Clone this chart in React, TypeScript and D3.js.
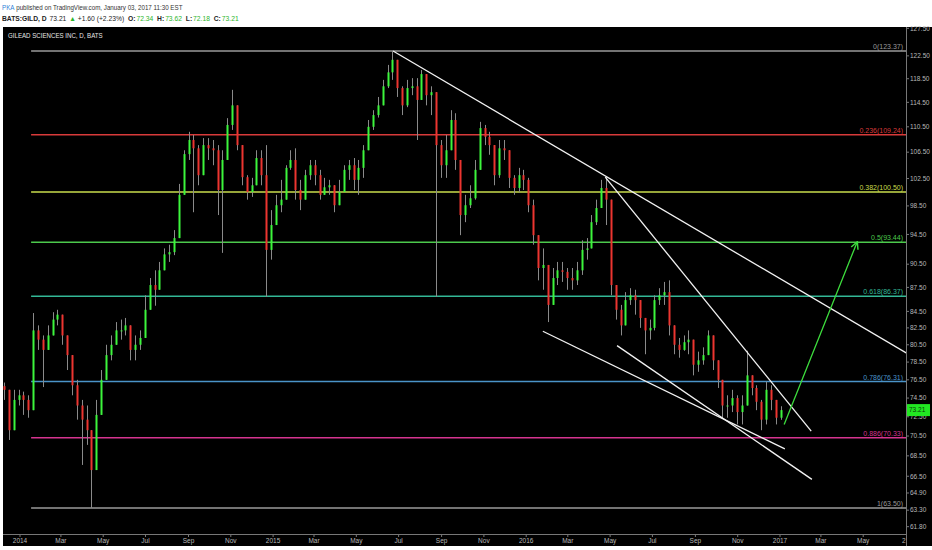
import React from 'react';
import * as d3 from 'd3';

const W = 932;
const H = 550;

// ---------- header texts ----------
const author = 'PKA';
const publishedText = ' published on TradingView.com, January 03, 2017 11:30 EST';
const symbolText = 'BATS:GILD, D';
const lastPriceText = '73.21';
const changeText = '+1.60 (+2.23%)';
const ohlcLabels = ['O:', 'H:', 'L:', 'C:'];
const ohlcValues = ['72.34', '73.62', '72.18', '73.21'];
const chartTitle = 'GILEAD SCIENCES INC, D, BATS';

// ---------- weekly candles (Dec 9 2013 .. Jan 2 2017) ----------
const firstWeek = new Date(2013, 11, 9);
const firstOpen = 75.8;
const closes = [
  75.4, 71.1, 74.3, 74.8, 74.3, 73.2, 82.2, 81.1, 79.9, 81.6,
  83.5, 84.1, 81.6, 79.3, 75.9, 73.7, 72.2, 71.1, 67.1, 72.7,
  76.5, 79.3, 80.5, 82.2, 82.2, 82.8, 79.9, 80.5, 81.3, 84.7,
  87.8, 87.2, 89.7, 91.8, 92.1, 94.0, 100.1, 106.2, 108.4, 107.1,
  103.0, 107.6, 107.1, 106.8, 100.8, 105.3, 110.8, 114.0, 107.6, 102.7,
  100.5, 101.5, 105.6, 103.0, 92.4, 95.8, 98.6, 99.4, 104.1, 105.3,
  100.8, 99.4, 103.0, 104.5, 103.0, 100.1, 101.2, 101.5, 98.6, 100.5,
  103.8, 104.5, 102.3, 104.1, 106.8, 110.5, 112.4, 114.0, 117.2, 119.6,
  121.8, 116.9, 114.0, 116.9, 117.2, 114.9, 119.3, 115.7, 116.2, 107.6,
  104.5, 106.8, 111.6, 105.3, 97.2, 98.6, 99.6, 103.8, 110.3, 108.9,
  107.6, 103.0, 107.1, 106.8, 102.6, 101.1, 103.0, 102.3, 98.6, 94.4,
  90.0, 90.4, 85.3, 88.7, 89.7, 89.5, 88.7, 88.4, 89.7, 92.4,
  92.6, 96.2, 98.2, 101.1, 99.4, 87.8, 84.7, 82.8, 85.9, 86.5,
  85.9, 83.7, 82.2, 82.5, 85.9, 86.5, 86.9, 82.8, 80.5, 79.9,
  80.8, 81.1, 78.2, 78.7, 79.3, 81.6, 78.7, 76.5, 73.7, 73.7,
  74.5, 73.0, 73.7, 77.0, 75.6, 74.1, 72.2, 75.4, 74.3, 72.4,
  73.21,
];
const highs = [
  76.2, 74.8, 75.4, 75.4, 75.2, 74.8, 84.3, 82.8, 81.6, 82.8,
  84.4, 84.7, 84.1, 81.6, 79.3, 76.5, 74.3, 73.7, 71.1, 74.3,
  77.6, 80.5, 81.6, 83.2, 83.5, 83.7, 82.8, 81.6, 82.2, 86.5,
  88.7, 89.7, 90.8, 92.6, 93.1, 95.1, 101.7, 106.8, 109.7, 109.2,
  107.6, 108.7, 108.7, 108.4, 107.6, 106.8, 111.9, 116.6, 114.0, 107.6,
  103.0, 102.6, 106.8, 106.8, 107.6, 97.9, 100.1, 102.3, 104.5, 106.8,
  107.1, 102.3, 103.8, 105.3, 105.3, 103.8, 102.6, 102.3, 101.5, 102.3,
  104.5, 105.3, 105.6, 105.3, 107.6, 111.6, 113.2, 115.4, 118.3, 120.9,
  123.37, 121.8, 117.2, 118.3, 118.6, 118.6, 120.0, 118.3, 117.2, 113.2,
  108.4, 109.2, 113.2, 112.7, 104.5, 100.1, 101.5, 105.3, 111.3, 110.8,
  109.7, 107.6, 108.4, 108.4, 106.8, 103.0, 104.1, 103.8, 102.6, 99.4,
  94.4, 92.6, 89.1, 90.0, 90.8, 90.8, 90.0, 90.0, 90.8, 93.7,
  94.0, 97.2, 99.4, 102.3, 102.7, 92.4, 87.2, 85.3, 86.9, 87.4,
  87.2, 85.9, 83.7, 83.5, 86.5, 87.4, 88.2, 88.4, 82.2, 81.3,
  81.6, 82.2, 80.5, 79.7, 80.2, 82.2, 81.6, 78.7, 76.5, 74.8,
  75.4, 74.8, 74.8, 79.8, 77.0, 75.9, 74.3, 76.3, 75.9, 74.3,
  73.62,
];
const lows = [
  74.3, 70.1, 72.2, 73.7, 72.7, 72.4, 74.8, 79.9, 75.7, 80.5,
  82.2, 82.8, 80.5, 77.6, 74.8, 72.2, 67.6, 69.6, 63.5, 67.1,
  73.2, 76.5, 78.7, 80.5, 81.1, 81.6, 78.7, 78.7, 79.9, 82.2,
  85.9, 85.2, 87.2, 90.0, 90.8, 91.7, 95.8, 101.5, 105.3, 97.6,
  101.5, 104.5, 105.3, 104.5, 97.2, 92.0, 106.8, 110.0, 106.8, 101.5,
  99.4, 99.8, 101.5, 101.5, 86.3, 91.1, 95.8, 97.6, 100.1, 103.8,
  99.4, 97.9, 100.1, 102.3, 101.5, 99.4, 100.1, 100.1, 97.6, 99.4,
  101.5, 102.3, 100.8, 100.1, 102.6, 106.8, 110.0, 112.0, 114.0, 116.9,
  118.3, 115.4, 112.4, 113.7, 115.7, 108.4, 114.9, 114.0, 112.4, 86.3,
  102.6, 102.6, 107.6, 103.8, 94.4, 96.2, 98.2, 99.4, 103.8, 107.6,
  106.1, 101.5, 102.6, 105.3, 101.1, 100.1, 100.5, 100.8, 97.6, 93.1,
  88.4, 87.2, 83.2, 85.9, 87.8, 88.2, 87.2, 87.2, 87.8, 89.1,
  91.1, 93.1, 95.8, 98.6, 95.8, 86.5, 83.5, 81.6, 83.5, 85.3,
  84.1, 82.5, 79.4, 81.1, 82.2, 85.3, 85.3, 81.6, 79.4, 79.0,
  79.8, 79.4, 77.0, 77.4, 78.2, 79.7, 77.6, 75.6, 72.4, 72.4,
  73.0, 71.7, 71.7, 75.4, 74.8, 73.2, 71.1, 71.7, 73.2, 71.7,
  72.18,
];

// ---------- Fibonacci retracement ----------
const fibRatios = ['0', '0.236', '0.382', '0.5', '0.618', '0.786', '0.886', '1'];
const fibPrices = [123.37, 109.24, 100.5, 93.44, 86.37, 76.31, 70.33, 63.5];
const fibColors = ['#9a9a9a', '#d83a3a', '#c9dc4c', '#4cc94c', '#33b896', '#4a93c8', '#d6348f', '#9a9a9a'];
const fibStart = new Date(2014, 0, 17);

// ---------- trend lines ----------
const trendStartDates = [new Date(2015, 5, 23), new Date(2016, 3, 24), new Date(2016, 0, 25), new Date(2016, 4, 11)];
const trendStartPrices = [123.37, 102.7, 82.1, 80.4];
const trendEndDates = [new Date(2017, 6, 2), new Date(2017, 1, 15), new Date(2017, 0, 8), new Date(2017, 1, 16)];
const trendEndPrices = [79.55, 71.0, 69.2, 66.2];

const arrowStartDate = new Date(2017, 0, 7);
const arrowStartPrice = 71.7;
const arrowEndDate = new Date(2017, 3, 22);
const arrowEndPrice = 93.4;

// ---------- axes ----------
const yTickValues = [127.5, 122.5, 118.5, 114.5, 110.5, 106.5, 102.5, 98.5, 94.5, 90.5, 87.5, 84.5, 82.5, 80.5, 78.5, 76.5, 74.5, 72.5, 70.5, 68.5, 66.5, 64.9, 63.3, 61.8];
const xTickStart = new Date(2014, 0, 1);
const xTickEnd = new Date(2017, 5, 2);
const xExtraLabel = '2';
const xExtraDate = new Date(2017, 6, 1);

const FONT = '"Liberation Sans", Arial, sans-serif';

export default function App() {
  const plotL = 3, plotR = 906, plotT = 27, plotB = 534, blackB = 546;

  const x = d3.scaleTime().domain([new Date(2014, 0, 1), new Date(2017, 0, 1)]).range([20, 780]);
  const y = d3.scaleLog().domain([63.5, 123.37]).range([508, 51]);

  const candles = closes.map((c, i) => {
    const o = i === 0 ? firstOpen : closes[i - 1];
    const hi = Math.max(highs[i], o, c);
    const lo = Math.min(lows[i], o, c);
    return { date: d3.timeDay.offset(firstWeek, 7 * i), o, c, hi, lo };
  });

  const xTicks = d3.timeMonth.every(2)!.range(xTickStart, xTickEnd);
  const fmtTick = (d: Date) => (d.getMonth() === 0 ? d3.timeFormat('%Y')(d) : d3.timeFormat('%b')(d));

  const up = '#3cf53c';
  const down = '#ec3530';
  const wick = '#8a8a8a';
  const axisText = '#b8b8b8';

  return (
    <svg width={W} height={H} style={{ position: 'absolute', left: 0, top: 0, background: '#fff' }} fontFamily={FONT}>
      <defs>
        <clipPath id="plot">
          <rect x={plotL} y={plotT} width={plotR - plotL} height={plotB - plotT} />
        </clipPath>
        <marker id="arrow" viewBox="0 0 10 10" refX="8" refY="5" markerWidth="7" markerHeight="7" orient="auto-start-reverse">
          <path d="M1,1 L9,5 L1,9" fill="none" stroke="#3ddc3d" strokeWidth="1.6" />
        </marker>
      </defs>
      <rect x={0} y={0} width={W} height={H} fill="#ffffff" />
      {/* header */}
      <g transform="translate(2,10) scale(0.89,1)">
        <text x={0} y={0} fontSize={7} fill="#333">
          <tspan fill="#2f7fd8">{author}</tspan>
          <tspan>{publishedText}</tspan>
        </text>
      </g>
      <g transform="translate(2,21) scale(0.96,1)">
        <text x={0} y={0} fontSize={7} fill="#222">
          <tspan fontWeight="bold">{symbolText}</tspan>
          <tspan dx={3}>{lastPriceText}</tspan>
          <tspan dx={3} fill="#2bb52b">▲</tspan>
          <tspan dx={2}>{changeText}</tspan>
          {ohlcLabels.map((l, i) => (
            <React.Fragment key={l}>
              <tspan dx={4} fontWeight="bold">{l}</tspan>
              <tspan dx={1} fill="#2bb52b">{ohlcValues[i]}</tspan>
            </React.Fragment>
          ))}
        </text>
      </g>

      {/* chart background */}
      <rect x={plotL} y={plotT} width={W - plotL} height={blackB - plotT} fill="#000" />
      <g transform="translate(8,38) scale(0.82,1)">
        <text x={0} y={0} fontSize={7.5} fill="#e6e6e6">{chartTitle}</text>
      </g>

      <g clipPath="url(#plot)">
        {/* fib levels */}
        {fibPrices.map((p, i) => (
          <g key={'f' + i}>
            <line x1={x(fibStart)} x2={plotR} y1={y(p)} y2={y(p)} stroke={fibColors[i]} strokeWidth={1.5} />
            <text x={plotR - 3} y={y(p) - 2} fontSize={7} fill={fibColors[i]} textAnchor="end">
              {`${fibRatios[i]}(${p.toFixed(2)})`}
            </text>
          </g>
        ))}
        {/* candles */}
        {candles.map((d, i) => {
          const cx = Math.round(x(d.date));
          const yo = y(d.o), yc = y(d.c);
          const top = Math.min(yo, yc);
          const h = Math.max(1, Math.abs(yo - yc));
          return (
            <g key={'c' + i}>
              <line x1={cx + 0.5} x2={cx + 0.5} y1={y(d.hi)} y2={y(d.lo)} stroke={wick} strokeWidth={1} />
              <rect x={cx - 0.5} y={top} width={2} height={h} fill={d.c >= d.o ? up : down} />
            </g>
          );
        })}
        {/* trend lines */}
        {trendStartDates.map((d, i) => (
          <line key={'t' + i} x1={x(d)} y1={y(trendStartPrices[i])} x2={x(trendEndDates[i])} y2={y(trendEndPrices[i])}
            stroke="#f2f2f2" strokeWidth={1.3} />
        ))}
        <line x1={x(arrowStartDate)} y1={y(arrowStartPrice)} x2={x(arrowEndDate)} y2={y(arrowEndPrice)}
          stroke="#3ddc3d" strokeWidth={1.3} markerEnd="url(#arrow)" />
      </g>

      {/* axes */}
      <line x1={plotL} x2={plotR} y1={plotB + 0.5} y2={plotB + 0.5} stroke="#777" />
      <line x1={plotR + 0.5} x2={plotR + 0.5} y1={plotT} y2={blackB} stroke="#777" />
      {yTickValues.map((v, i) => (
        <g key={'y' + i}>
          <line x1={plotR} x2={plotR + 3} y1={y(v)} y2={y(v)} stroke="#777" />
          <text x={plotR + 4} y={y(v)} dy="0.35em" fontSize={6.5} fill={axisText}>{v.toFixed(2)}</text>
        </g>
      ))}
      {xTicks.map((d, i) => (
        <g key={'x' + i}>
          <line x1={x(d)} x2={x(d)} y1={plotB} y2={plotB + 3} stroke="#777" />
          <text x={x(d)} y={543} fontSize={6.5} fill={axisText} textAnchor="middle">{fmtTick(d)}</text>
        </g>
      ))}
      <text x={x(xExtraDate)} y={543} fontSize={6.5} fill={axisText} textAnchor="end">{xExtraLabel}</text>

      {/* last price tag */}
      <rect x={plotR + 1} y={y(closes[closes.length - 1]) - 6} width={23} height={12} fill="#22e622" />
      <text x={plotR + 3} y={y(closes[closes.length - 1])} dy="0.35em" fontSize={6.5} fill="#0a3a0a">{lastPriceText}</text>

      <rect x={0} y={blackB} width={W} height={H - blackB} fill="#ffffff" />
    </svg>
  );
}
